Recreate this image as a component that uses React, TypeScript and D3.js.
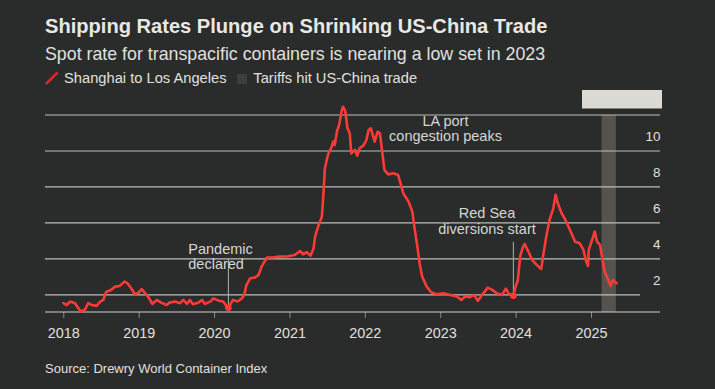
import React, { useEffect, useRef } from 'react';
import * as d3 from 'd3';

// Drewry WCI, Shanghai -> Los Angeles, $ thousands per 40ft box
const years = [
  2018.0, 2018.045, 2018.09, 2018.155, 2018.2, 2018.235, 2018.29, 2018.33, 2018.38, 2018.44,
  2018.49, 2018.53, 2018.57, 2018.62, 2018.69, 2018.75, 2018.81, 2018.85, 2018.9, 2018.95,
  2019.0, 2019.04, 2019.08, 2019.14, 2019.18, 2019.24, 2019.3, 2019.37, 2019.41, 2019.48,
  2019.55, 2019.59, 2019.64, 2019.68, 2019.72, 2019.79, 2019.84, 2019.88, 2019.95, 2019.99,
  2020.06, 2020.12, 2020.17, 2020.19, 2020.25, 2020.31, 2020.37, 2020.4, 2020.43, 2020.48,
  2020.54, 2020.59, 2020.63, 2020.7, 2020.79, 2020.87, 2020.98, 2021.07, 2021.14, 2021.18,
  2021.23, 2021.28, 2021.32, 2021.34, 2021.38, 2021.43, 2021.45, 2021.47, 2021.51, 2021.56,
  2021.58, 2021.6, 2021.63, 2021.66, 2021.69, 2021.71, 2021.74, 2021.77, 2021.8, 2021.82,
  2021.87, 2021.9, 2021.93, 2021.98, 2022.02, 2022.05, 2022.08, 2022.13, 2022.17, 2022.2,
  2022.23, 2022.26, 2022.31, 2022.38, 2022.44, 2022.48, 2022.51, 2022.58, 2022.63, 2022.66,
  2022.7, 2022.73, 2022.76, 2022.82, 2022.88, 2022.95, 2023.04, 2023.13, 2023.22, 2023.28,
  2023.33, 2023.39, 2023.45, 2023.5, 2023.54, 2023.59, 2023.63, 2023.69, 2023.75, 2023.82,
  2023.87, 2023.91, 2023.97, 2024.0, 2024.03, 2024.06, 2024.09, 2024.12, 2024.17, 2024.22,
  2024.28, 2024.34, 2024.37, 2024.41, 2024.45, 2024.5, 2024.53, 2024.56, 2024.61, 2024.65,
  2024.7, 2024.74, 2024.79, 2024.85, 2024.9, 2024.93, 2024.96, 2024.97, 2025.0, 2025.05,
  2025.08, 2025.12, 2025.15, 2025.18, 2025.23, 2025.26, 2025.29, 2025.31, 2025.34,
];
const rates = [
  1.54, 1.44, 1.63, 1.54, 1.26, 1.07, 1.2, 1.54, 1.44, 1.39,
  1.63, 1.72, 2.18, 2.24, 2.46, 2.5, 2.74, 2.65, 2.37, 2.04,
  2.13, 2.32, 2.13, 1.81, 1.5, 1.72, 1.57, 1.44, 1.57, 1.63,
  1.54, 1.72, 1.5, 1.72, 1.48, 1.57, 1.72, 1.5, 1.63, 1.81,
  1.68, 1.63, 1.35, 1.28, 1.72, 1.63, 1.81, 2.0, 2.56, 2.93,
  2.96, 3.11, 3.57, 4.07, 4.09, 4.13, 4.15, 4.22, 4.44, 4.26,
  4.37, 4.18, 4.59, 5.24, 5.8, 6.35, 7.56, 9.04, 9.78, 10.24,
  10.52, 10.33, 11.07, 11.48, 12.18, 12.46, 12.22, 11.26, 10.98, 9.87,
  10.06, 9.74, 10.15, 10.3, 10.6, 11.17, 11.26, 10.52, 11.07, 10.98,
  9.96, 8.94, 8.7, 8.76, 8.67, 8.11, 7.65, 7.18, 6.63, 5.7,
  4.59, 3.67, 3.02, 2.46, 2.15, 2.04, 2.09, 2.0, 1.91, 1.72,
  1.91, 1.87, 2.0, 1.67, 1.91, 2.18, 2.41, 2.28, 2.09, 2.0,
  2.35, 2.06, 1.95, 2.46, 2.83, 4.13, 4.59, 4.83, 4.41, 3.94,
  3.67, 3.43, 4.31, 5.33, 6.17, 6.81, 7.56, 7.09, 6.54, 6.26,
  5.8, 5.43, 4.96, 4.87, 4.5, 3.94, 3.61, 4.5, 4.87, 5.52,
  4.96, 4.78, 4.04, 3.3, 2.83, 2.5, 2.83, 2.74, 2.65,
];

const yearTicks = [2018, 2019, 2020, 2021, 2022, 2023, 2024, 2025];
const rateTicks = [2, 4, 6, 8, 10, 12];
const tariffSpan = [2025.14, 2025.33];

// annotations: marker point on the series, top of the leader line
const notes = [
  { year: 2020.19, rate: 1.28, lines: ['Pandemic', 'declared'], top: 4.0 },
  { year: 2023.97, rate: 1.95, lines: ['Red Sea', 'diversions start'], top: 4.95 },
];

const BG = '#2a2b2b';
const FONT = '"Liberation Sans", Arial, Helvetica, sans-serif';

export default function App() {
  const ref = useRef<SVGSVGElement>(null);

  useEffect(() => {
    document.body.style.margin = '0';
    document.body.style.background = BG;

    const svg = d3.select(ref.current);
    svg.selectAll('*').remove();

    const left = 45, right = 660, top = 115, bottom = 312;
    const x = d3.scaleLinear().domain([2018, 2025]).range([63.3, 591]);
    const y = d3.scaleLinear().domain([1.05, 12]).range([bottom, top]);

    svg.append('rect').attr('width', 715).attr('height', 389).attr('fill', BG);

    // title block
    svg.append('text').attr('x', 45).attr('y', 33)
      .attr('font-size', 20.1).attr('font-weight', 700).attr('fill', '#e8e8e6')
      .text('Shipping Rates Plunge on Shrinking US-China Trade');
    svg.append('text').attr('x', 45).attr('y', 60)
      .attr('font-size', 17.8).attr('fill', '#e0e0de')
      .text('Spot rate for transpacific containers is nearing a low set in 2023');

    // legend
    svg.append('line').attr('x1', 46).attr('y1', 84).attr('x2', 57.5).attr('y2', 72.5)
      .attr('stroke', '#d42a2a').attr('stroke-width', 2.5);
    svg.append('text').attr('x', 64).attr('y', 83.3).attr('font-size', 14.7).attr('fill', '#e0e0de')
      .text('Shanghai to Los Angeles');
    svg.append('rect').attr('x', 237).attr('y', 74).attr('width', 10).attr('height', 10)
      .attr('fill', '#3d3f3f');
    svg.append('text').attr('x', 253.3).attr('y', 83.3).attr('font-size', 14.7).attr('fill', '#e0e0de')
      .text('Tariffs hit US-China trade');

    // tariff band + its (empty) label tab
    svg.append('rect').attr('x', x(tariffSpan[0])).attr('y', top)
      .attr('width', x(tariffSpan[1]) - x(tariffSpan[0])).attr('height', bottom - top)
      .attr('fill', '#56534e');
    svg.append('rect').attr('x', 582).attr('y', 90).attr('width', 80).attr('height', 18.5)
      .attr('fill', '#dcdad5');

    // gridlines
    svg.append('g').selectAll('line').data(rateTicks).enter().append('line')
      .attr('x1', left).attr('x2', (d) => (d === 2 ? 640 : right))
      .attr('y1', (d) => y(d)).attr('y2', (d) => y(d))
      .attr('stroke', '#bdbdbb').attr('stroke-width', 1.2);
    svg.append('g').selectAll('text').data(rateTicks.filter((d) => d < 12)).enter().append('text')
      .attr('x', 660.5).attr('y', (d) => y(d) - 9.5).attr('text-anchor', 'end')
      .attr('font-size', 13.5).attr('fill', '#e0e0de')
      .text((d) => d);

    // x axis
    const xAxis = svg.append('g').attr('transform', `translate(0,${bottom})`)
      .call(d3.axisBottom(x).tickValues(yearTicks).tickFormat(d3.format('d')).tickSize(6).tickPadding(10));
    xAxis.select('.domain').remove();
    xAxis.selectAll('.tick line').attr('stroke', '#8a8a88');
    xAxis.selectAll('.tick text').attr('fill', '#e0e0de').attr('font-size', 14.4)
      .attr('font-family', FONT);
    svg.append('line').attr('x1', left).attr('x2', right).attr('y1', bottom).attr('y2', bottom)
      .attr('stroke', '#cfcfcd').attr('stroke-width', 1.2);

    // annotation leader lines
    notes.forEach((n) => {
      svg.append('line').attr('x1', x(n.year)).attr('x2', x(n.year))
        .attr('y1', y(n.top)).attr('y2', y(n.rate) - 3)
        .attr('stroke', '#b0b0ae').attr('stroke-width', 1);
    });

    // series
    const line = d3.line<number>()
      .x((d, i) => x(years[i]))
      .y((d) => y(d))
      .curve(d3.curveLinear);
    svg.append('path').datum(rates).attr('d', line)
      .attr('fill', 'none').attr('stroke', '#fb3b36').attr('stroke-width', 2.6)
      .attr('stroke-linejoin', 'round').attr('stroke-linecap', 'round');
    notes.forEach((n) => {
      svg.append('circle').attr('cx', x(n.year)).attr('cy', y(n.rate)).attr('r', 3.3)
        .attr('fill', '#fb3b36');
    });

    // annotation text
    const ann = svg.append('g').attr('font-size', 14.5).attr('fill', '#d6d6d4');
    ann.append('text').attr('x', 188.3).attr('y', 254).text('Pandemic');
    ann.append('text').attr('x', 188.3).attr('y', 269).text('declared');
    ann.append('text').attr('x', 445.5).attr('y', 126).attr('text-anchor', 'middle').text('LA port');
    ann.append('text').attr('x', 445.5).attr('y', 141).attr('text-anchor', 'middle').text('congestion peaks');
    ann.append('text').attr('x', 487).attr('y', 218).attr('text-anchor', 'middle').text('Red Sea');
    ann.append('text').attr('x', 487).attr('y', 234).attr('text-anchor', 'middle').text('diversions start');

    // source
    svg.append('text').attr('x', 45).attr('y', 372.7).attr('font-size', 13).attr('fill', '#e0e0de')
      .text('Source: Drewry World Container Index');
  }, []);

  return (
    <svg ref={ref} width={715} height={389}
      style={{ position: 'absolute', left: 0, top: 0, fontFamily: FONT }} />
  );
}
